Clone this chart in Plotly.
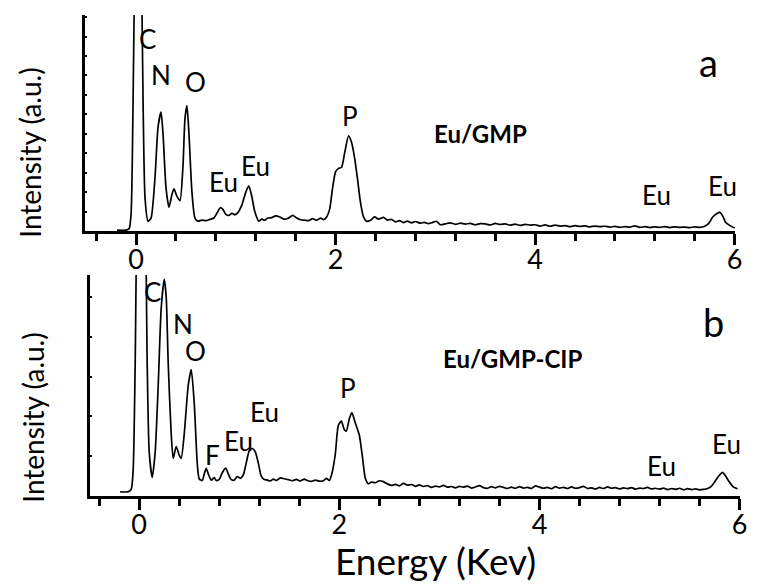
import plotly.graph_objects as go

W, H = 757, 585
FONT = "Lato"

# EDS spectrum of Eu/GMP (panel a): energy in keV, intensity in arbitrary units
energy_a = [
    -0.19, -0.10, -0.07, -0.05, -0.03, -0.01, 0.02, 0.05, 0.07, 0.09,
    0.12, 0.15, 0.19, 0.22, 0.25, 0.27, 0.30, 0.33, 0.36, 0.38,
    0.41, 0.44, 0.47, 0.49, 0.51, 0.53, 0.56, 0.59, 0.62, 0.66,
    0.70, 0.74, 0.78, 0.82, 0.845, 0.87, 0.90, 0.93, 0.96, 0.99,
    1.02, 1.06, 1.10, 1.13, 1.16, 1.19, 1.23, 1.26, 1.29, 1.32,
    1.36, 1.40, 1.44, 1.48, 1.52, 1.57, 1.61, 1.65, 1.69, 1.73,
    1.77, 1.81, 1.85, 1.88, 1.91, 1.94, 1.97, 2.00, 2.03, 2.06,
    2.09, 2.13, 2.16, 2.19, 2.22, 2.25, 2.28, 2.31, 2.35, 2.39,
    2.43, 2.48, 2.52, 2.56, 2.60, 2.64, 2.68, 2.72, 2.76, 2.80,
    2.85, 2.89, 2.93, 2.97, 3.01, 3.05, 3.10, 3.15, 3.20, 3.25,
    3.30, 3.35, 3.40, 3.45, 3.50, 3.55, 3.60, 3.65, 3.70, 3.75,
    3.80, 3.85, 3.90, 3.95, 4.00, 4.05, 4.10, 4.15, 4.20, 4.25,
    4.30, 4.35, 4.40, 4.45, 4.50, 4.55, 4.60, 4.65, 4.70, 4.75,
    4.80, 4.85, 4.90, 4.95, 5.00, 5.05, 5.10, 5.15, 5.20, 5.25,
    5.30, 5.35, 5.40, 5.45, 5.50, 5.55, 5.60, 5.65, 5.70, 5.74,
    5.78, 5.82, 5.85, 5.88, 5.91, 5.95, 6.00,
]
intensity_a = [
    0.4, 0.4, 1.0, 8, 60, 130, 160, 130, 60, 15,
    4.5, 6, 25, 48, 55, 45, 20, 11, 17, 19.5,
    16, 14, 30, 52, 58, 45, 18, 6, 4.6, 5.0,
    4.8, 5.4, 6, 9, 10.8, 10, 7.7, 7.2, 8.2, 7.5,
    8.5, 12, 18, 20.9, 16, 9, 4.5, 5.5, 5.0, 6.0,
    6.2, 7.0, 6.5, 5.5, 5.8, 7.2, 6.0, 5.2, 5.0, 4.8,
    5.7, 5.0, 6.0, 5.2, 6.5, 10, 20, 27.5, 29, 29.5,
    36, 44, 41, 34, 24, 13, 6.5, 4.5, 5.0, 6.5,
    5.5, 6.3, 5.0, 5.4, 4.2, 4.8, 3.9, 4.6, 3.8, 4.4,
    3.6, 4.0, 3.4, 3.9, 4.5, 2.9, 3.3, 3.8, 3.1, 3.6,
    3.2, 3.5, 2.9, 3.4, 3.3, 2.8, 3.5, 3.0, 3.3, 2.7,
    3.2, 2.6, 3.1, 2.7, 2.9, 2.3, 2.8, 2.2, 2.7, 2.3,
    2.5, 2.0, 2.5, 2.1, 2.4, 1.9, 2.3, 2.0, 2.2, 1.8,
    2.1, 1.7, 2.0, 1.8, 2.4, 1.7, 2.0, 1.6, 1.9, 1.7,
    2.0, 1.6, 1.9, 1.7, 1.8, 1.6, 1.9, 1.7, 2.2, 3.5,
    6.5, 8.0, 8.6, 7.0, 4.0, 2.6, 1.4,
]

# EDS spectrum of Eu/GMP-CIP (panel b)
energy_b = [
    -0.19, -0.11, -0.08, -0.06, -0.04, -0.02, 0.02, 0.06, 0.08, 0.10,
    0.13, 0.16, 0.19, 0.22, 0.25, 0.27, 0.29, 0.32, 0.34, 0.37,
    0.40, 0.42, 0.45, 0.49, 0.52, 0.55, 0.58, 0.60, 0.63, 0.65,
    0.67, 0.69, 0.72, 0.75, 0.77, 0.80, 0.83, 0.865, 0.89, 0.92,
    0.95, 0.98, 1.01, 1.04, 1.07, 1.10, 1.13, 1.16, 1.19, 1.22,
    1.25, 1.28, 1.31, 1.34, 1.37, 1.41, 1.45, 1.49, 1.53, 1.57,
    1.61, 1.65, 1.68, 1.72, 1.76, 1.80, 1.84, 1.87, 1.90, 1.93,
    1.96, 1.99, 2.02, 2.05, 2.07, 2.10, 2.125, 2.16, 2.20, 2.23,
    2.26, 2.29, 2.32, 2.36, 2.40, 2.44, 2.48, 2.52, 2.56, 2.60,
    2.64, 2.68, 2.72, 2.76, 2.80, 2.84, 2.88, 2.92, 2.96, 3.00,
    3.04, 3.08, 3.12, 3.16, 3.20, 3.24, 3.28, 3.32, 3.36, 3.40,
    3.44, 3.48, 3.52, 3.56, 3.60, 3.64, 3.68, 3.72, 3.76, 3.80,
    3.84, 3.88, 3.92, 3.96, 4.00, 4.04, 4.08, 4.12, 4.16, 4.20,
    4.24, 4.28, 4.32, 4.36, 4.40, 4.44, 4.48, 4.52, 4.56, 4.60,
    4.64, 4.68, 4.72, 4.76, 4.80, 4.84, 4.88, 4.92, 4.96, 5.00,
    5.04, 5.08, 5.12, 5.16, 5.20, 5.24, 5.28, 5.32, 5.36, 5.40,
    5.44, 5.48, 5.52, 5.56, 5.60, 5.64, 5.68, 5.72, 5.76, 5.80,
    5.83, 5.86, 5.90, 5.94, 5.98,
]
intensity_b = [
    1.9, 1.9, 3, 12, 60, 130, 160, 130, 60, 20,
    8.4, 20, 50, 85, 98, 90, 60, 28, 17, 22.4,
    18.5, 17, 28, 50, 57.2, 42, 15, 7.7, 7.0, 10,
    12.5, 10, 7.2, 8.3, 7.0, 7.5, 10.5, 12.6, 10, 7.4,
    7.2, 8.8, 8.0, 9.5, 15, 20.5, 21.5, 20, 15, 9,
    7.5, 7.2, 6.8, 7.6, 7.0, 8.2, 7.8, 7.4, 6.9, 7.5,
    6.8, 7.6, 7.0, 6.6, 7.2, 6.7, 6.9, 8.0, 7.0, 11,
    19, 32, 33.9, 30, 29.4, 35, 37.7, 33, 27.5, 18,
    8, 5.5, 6.3, 6.0, 6.9, 6.5, 5.5, 4.8, 5.3, 4.6,
    5.7, 4.9, 5.2, 4.4, 5.0, 4.3, 4.7, 3.9, 4.5, 4.1,
    4.8, 4.0, 4.3, 3.7, 4.4, 4.0, 4.5, 3.6, 4.1, 4.7,
    3.8, 3.5, 4.2, 3.7, 4.4, 3.9, 3.4, 4.0, 3.5, 4.2,
    3.6, 3.9, 3.4, 4.6, 4.0, 3.5, 3.9, 3.3, 4.2, 3.6,
    3.9, 3.4, 4.1, 3.5, 3.8, 4.4, 3.4, 3.7, 3.2, 3.9,
    3.4, 4.1, 3.5, 3.8, 3.2, 3.7, 3.3, 3.8, 3.1, 3.6,
    3.4, 3.9, 3.2, 3.5, 3.1, 3.6, 2.9, 3.4, 3.0, 3.5,
    2.8, 3.3, 2.9, 3.2, 2.8, 3.0, 3.4, 4.5, 7.0, 9.5,
    10.7, 9.0, 6.2, 4.0, 3.3,
]

x_tick_values = [0, 2, 4, 6]
x_tick_labels = ["0", "2", "4", "6"]

# element labels: (text, x pixel, y pixel)
peak_labels_a = [
    ("C", 149, 39), ("N", 162, 75), ("O", 197, 82), ("Eu", 226, 182),
    ("Eu", 258, 166), ("P", 353, 116), ("Eu", 663, 195), ("Eu", 729, 186),
]
peak_labels_b = [
    ("C", 154, 292), ("N", 185, 324), ("O", 197, 351), ("F", 214, 455),
    ("Eu", 241, 441), ("Eu", 267, 412), ("P", 351, 388), ("Eu", 668, 466),
    ("Eu", 733, 444),
]

fig = go.Figure()
fig.add_trace(go.Scatter(x=energy_a, y=intensity_a, mode="lines",
                         line=dict(color="black", width=1.7, shape="spline", smoothing=0.6),
                         xaxis="x", yaxis="y", showlegend=False, hoverinfo="skip"))
fig.add_trace(go.Scatter(x=energy_b, y=intensity_b, mode="lines",
                         line=dict(color="black", width=1.7, shape="spline", smoothing=0.6),
                         xaxis="x2", yaxis="y2", showlegend=False, hoverinfo="skip"))


def px_x(px):
    return px / W


def px_y(py):
    return 1 - py / H


xaxis_common = dict(
    showgrid=False, zeroline=False, showline=True, linecolor="black", linewidth=3,
    ticks="outside", ticklen=11, tickwidth=3, tickcolor="black",
    tickvals=x_tick_values, ticktext=x_tick_labels, ticklabelstandoff=-8,
    tickfont=dict(family=FONT, size=27, color="black"),
    minor=dict(ticks="outside", ticklen=7, tickwidth=3, tickcolor="black", dtick=0.4, tick0=0),
    mirror=False,
)
yaxis_common = dict(
    showgrid=False, zeroline=False, showline=True, linecolor="black", linewidth=3,
    ticks="inside", ticklen=2, tickwidth=2, tickcolor="black", showticklabels=False,
    range=[0, 100], tick0=0,
)

fig.update_layout(
    width=W, height=H,
    margin=dict(l=0, r=0, t=0, b=0),
    paper_bgcolor="white", plot_bgcolor="white",
    font=dict(family=FONT, color="black"),
    xaxis=dict(domain=[px_x(86), px_x(742)], range=[-0.51, 6.005], anchor="y", **xaxis_common),
    yaxis=dict(domain=[px_y(231), px_y(15)], dtick=9, anchor="x", **yaxis_common),
    xaxis2=dict(domain=[px_x(91), px_x(747)], range=[-0.49, 6.005], anchor="y2", **xaxis_common),
    yaxis2=dict(domain=[px_y(496), px_y(275)], dtick=18, anchor="x2", **yaxis_common),
)

annotations = []


def add_text(text, px, py, size, bold=False, angle=0):
    annotations.append(dict(
        text=f"<b>{text}</b>" if bold else text,
        xref="paper", yref="paper", x=px_x(px), y=px_y(py),
        xanchor="center", yanchor="middle", showarrow=False, textangle=angle,
        font=dict(family=FONT, size=size, color="black"),
    ))


for t, px, py in peak_labels_a + peak_labels_b:
    add_text(t, px, py, 26)

add_text("Eu/GMP", 485, 134, 24, bold=True)
add_text("Eu/GMP-CIP", 517, 358, 24, bold=True)
add_text("a", 715, 62, 38)
add_text("b", 720, 322, 38)
add_text("Intensity (a.u.)", 30, 153, 28, angle=-90)
add_text("Intensity (a.u.)", 33, 418, 28, angle=-90)
add_text("Energy (Kev)", 440, 560, 37)

fig.update_layout(annotations=annotations)
fig.write_html("out.html")
